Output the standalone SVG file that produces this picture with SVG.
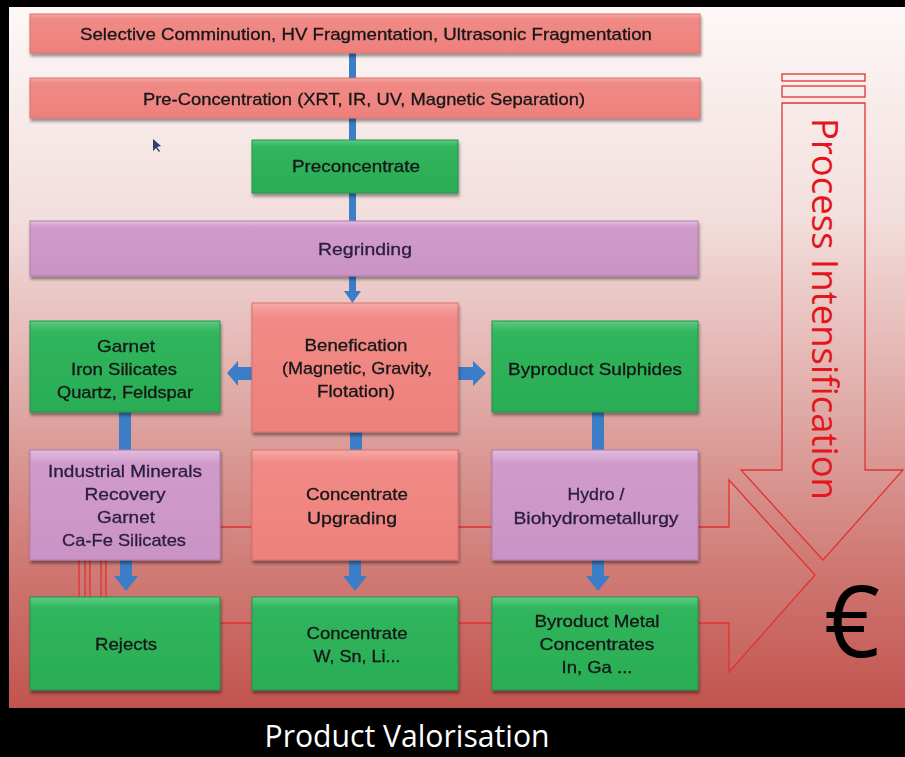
<svg xmlns="http://www.w3.org/2000/svg" width="905" height="757" viewBox="0 0 905 757">
  <defs>
    <linearGradient id="bg" x1="0" y1="0" x2="0" y2="1">
      <stop offset="0" stop-color="#fdf8f7"/>
      <stop offset="0.3" stop-color="#f2dedc"/>
      <stop offset="0.55" stop-color="#e0aca8"/>
      <stop offset="0.8" stop-color="#cf7772"/>
      <stop offset="1" stop-color="#c2544f"/>
    </linearGradient>
    <linearGradient id="gSal" x1="0" y1="0" x2="0" y2="1">
      <stop offset="0" stop-color="#f7aaa7"/>
      <stop offset="0.12" stop-color="#f08a86"/>
      <stop offset="1" stop-color="#ee807c"/>
    </linearGradient>
    <linearGradient id="gGrn" x1="0" y1="0" x2="0" y2="1">
      <stop offset="0" stop-color="#5fcc84"/>
      <stop offset="0.12" stop-color="#30b55c"/>
      <stop offset="1" stop-color="#2aad55"/>
    </linearGradient>
    <linearGradient id="gVio" x1="0" y1="0" x2="0" y2="1">
      <stop offset="0" stop-color="#e2bde0"/>
      <stop offset="0.12" stop-color="#d09bcb"/>
      <stop offset="1" stop-color="#ca93c5"/>
    </linearGradient>
    <filter id="sh" x="-10%" y="-10%" width="120%" height="130%">
      <feDropShadow dx="1" dy="3" stdDeviation="1.5" flood-color="#000" flood-opacity="0.4"/>
    </filter>
  </defs>
  <style>
    .sal { fill: url(#gSal); stroke: #d9716d; stroke-width: 1; }
    .grn { fill: url(#gGrn); stroke: #23934a; stroke-width: 1; }
    .vio { fill: url(#gVio); stroke: #b27fae; stroke-width: 1; }
    .box { filter: url(#sh); }
    .t { font-family: "Liberation Sans", Arial, sans-serif; font-size: 17px; fill: #161616; stroke: #161616; stroke-width: 0.3; text-anchor: middle; }
    .tv { fill: #2a1d3d; stroke: #2a1d3d; }
    .blue { fill: #3b7ec7; }
    .outl { fill: #ffffff; fill-opacity: 0.04; stroke: #e2322f; stroke-width: 1.3; }
  </style>

  <rect x="0" y="0" width="905" height="757" fill="#000"/>
  <rect x="9" y="7" width="896" height="701" fill="url(#bg)"/>

  <!-- big outline arrows -->
  <g id="intensification-arrow">
    <rect class="outl" x="782" y="74" width="83" height="7"/>
    <rect class="outl" x="782" y="86" width="83" height="11"/>
    <polygon class="outl" points="782,103 865,103 865,470 903,470 823,560 741,470 782,470"/>
    <text x="0" y="0" transform="translate(812,118) rotate(90)" font-family="'Open Sans', 'DejaVu Sans', sans-serif" font-size="36" fill="#e3161b" textLength="382" lengthAdjust="spacingAndGlyphs">Process Intensification</text>
  </g>
  <g id="valorisation-arrow">
    <rect class="outl" x="79" y="527" width="6" height="96"/>
    <rect class="outl" x="90" y="527" width="11" height="96"/>
    <polygon class="outl" points="106,527 729,527 729,480 815,575 729,672 729,623 106,623"/>
  </g>

  <!-- connectors -->
  <g id="connectors">
    <rect class="blue" x="349" y="53" width="7" height="25"/>
    <rect class="blue" x="349" y="118" width="7" height="22"/>
    <rect class="blue" x="349" y="193" width="7" height="28"/>
    <polygon class="blue" points="349,276 356,276 356,291 361,291 352.5,303 344,291 349,291"/>
    <polygon class="blue" points="252,367 238,367 238,361 227,373 238,386 238,380 252,380"/>
    <polygon class="blue" points="458,367 473,367 473,361 486,373 473,386 473,380 458,380"/>
    <rect class="blue" x="119" y="412" width="12" height="38"/>
    <rect class="blue" x="350" y="432" width="12" height="18"/>
    <rect class="blue" x="592" y="412" width="12" height="38"/>
    <polygon class="blue" points="120,560 132,560 132,576 138,576 126,591 114,576 120,576"/>
    <polygon class="blue" points="349,560 361,560 361,576 367,576 355,591 343,576 349,576"/>
    <polygon class="blue" points="592,560 604,560 604,576 610,576 598,591 586,576 592,576"/>
  </g>

  <!-- nodes -->
  <g id="comminution" class="box">
    <rect class="sal" x="30" y="14" width="670" height="39"/>
    <text class="t" x="366" y="40" textLength="572" lengthAdjust="spacingAndGlyphs">Selective Comminution, HV Fragmentation, Ultrasonic Fragmentation</text>
  </g>
  <g id="preconcentration" class="box">
    <rect class="sal" x="30" y="78" width="670" height="40"/>
    <text class="t" x="364" y="105" textLength="442" lengthAdjust="spacingAndGlyphs">Pre-Concentration (XRT, IR, UV, Magnetic Separation)</text>
  </g>
  <g id="preconcentrate" class="box">
    <rect class="grn" x="252" y="140" width="206" height="53"/>
    <text class="t" x="356" y="172" textLength="128" lengthAdjust="spacingAndGlyphs">Preconcentrate</text>
  </g>
  <g id="regrinding" class="box">
    <rect class="vio" x="30" y="221" width="668" height="55"/>
    <text class="t tv" x="365" y="255" textLength="94" lengthAdjust="spacingAndGlyphs">Regrinding</text>
  </g>
  <g id="benefication" class="box">
    <rect class="sal" x="252" y="303" width="206" height="129"/>
    <text class="t" x="356" y="351" textLength="103" lengthAdjust="spacingAndGlyphs">Benefication</text>
    <text class="t" x="357" y="374" textLength="150" lengthAdjust="spacingAndGlyphs">(Magnetic, Gravity,</text>
    <text class="t" x="356" y="397" textLength="78" lengthAdjust="spacingAndGlyphs">Flotation)</text>
  </g>
  <g id="garnet" class="box">
    <rect class="grn" x="30" y="321" width="190" height="91"/>
    <text class="t" x="126" y="352" textLength="58" lengthAdjust="spacingAndGlyphs">Garnet</text>
    <text class="t" x="124" y="375" textLength="106" lengthAdjust="spacingAndGlyphs">Iron Silicates</text>
    <text class="t" x="125" y="398" textLength="136" lengthAdjust="spacingAndGlyphs">Quartz, Feldspar</text>
  </g>
  <g id="byproduct-sulphides" class="box">
    <rect class="grn" x="492" y="321" width="206" height="91"/>
    <text class="t" x="595" y="375" textLength="174" lengthAdjust="spacingAndGlyphs">Byproduct Sulphides</text>
  </g>
  <g id="industrial-minerals" class="box">
    <rect class="vio" x="30" y="450" width="190" height="110"/>
    <text class="t tv" x="125" y="477" textLength="154" lengthAdjust="spacingAndGlyphs">Industrial Minerals</text>
    <text class="t tv" x="125" y="500" textLength="81" lengthAdjust="spacingAndGlyphs">Recovery</text>
    <text class="t tv" x="126" y="523" textLength="58" lengthAdjust="spacingAndGlyphs">Garnet</text>
    <text class="t tv" x="124" y="546" textLength="124" lengthAdjust="spacingAndGlyphs">Ca-Fe Silicates</text>
  </g>
  <g id="concentrate-upgrading" class="box">
    <rect class="sal" x="252" y="450" width="206" height="110"/>
    <text class="t" x="357" y="500" textLength="102" lengthAdjust="spacingAndGlyphs">Concentrate</text>
    <text class="t" x="352" y="524" textLength="90" lengthAdjust="spacingAndGlyphs">Upgrading</text>
  </g>
  <g id="hydro" class="box">
    <rect class="vio" x="492" y="450" width="206" height="110"/>
    <text class="t tv" x="596" y="500" textLength="57" lengthAdjust="spacingAndGlyphs">Hydro /</text>
    <text class="t tv" x="596" y="524" textLength="165" lengthAdjust="spacingAndGlyphs">Biohydrometallurgy</text>
  </g>
  <g id="rejects" class="box">
    <rect class="grn" x="30" y="597" width="190" height="93"/>
    <text class="t" x="126" y="650" textLength="62" lengthAdjust="spacingAndGlyphs">Rejects</text>
  </g>
  <g id="concentrate" class="box">
    <rect class="grn" x="252" y="597" width="206" height="93"/>
    <text class="t" x="357" y="639" textLength="101" lengthAdjust="spacingAndGlyphs">Concentrate</text>
    <text class="t" x="357" y="662" textLength="87" lengthAdjust="spacingAndGlyphs">W, Sn, Li...</text>
  </g>
  <g id="byproduct-metal" class="box">
    <rect class="grn" x="492" y="597" width="206" height="93"/>
    <text class="t" x="597" y="627" textLength="125" lengthAdjust="spacingAndGlyphs">Byroduct Metal</text>
    <text class="t" x="597" y="650" textLength="115" lengthAdjust="spacingAndGlyphs">Concentrates</text>
    <text class="t" x="597" y="673" textLength="71" lengthAdjust="spacingAndGlyphs">In, Ga ...</text>
  </g>

  <!-- cursor mark -->
  <polygon points="153,139 153,151 156,148 159,152 160,151 157,147 161,146" fill="#2b3f6e"/>

  <text x="852" y="657" font-family="'Open Sans', 'DejaVu Sans', sans-serif" font-size="98" fill="#000" text-anchor="middle">€</text>
  <text x="407" y="747" font-family="'Open Sans', 'Liberation Sans', sans-serif" font-size="31" fill="#fff" text-anchor="middle" textLength="285" lengthAdjust="spacingAndGlyphs">Product Valorisation</text>
</svg>
